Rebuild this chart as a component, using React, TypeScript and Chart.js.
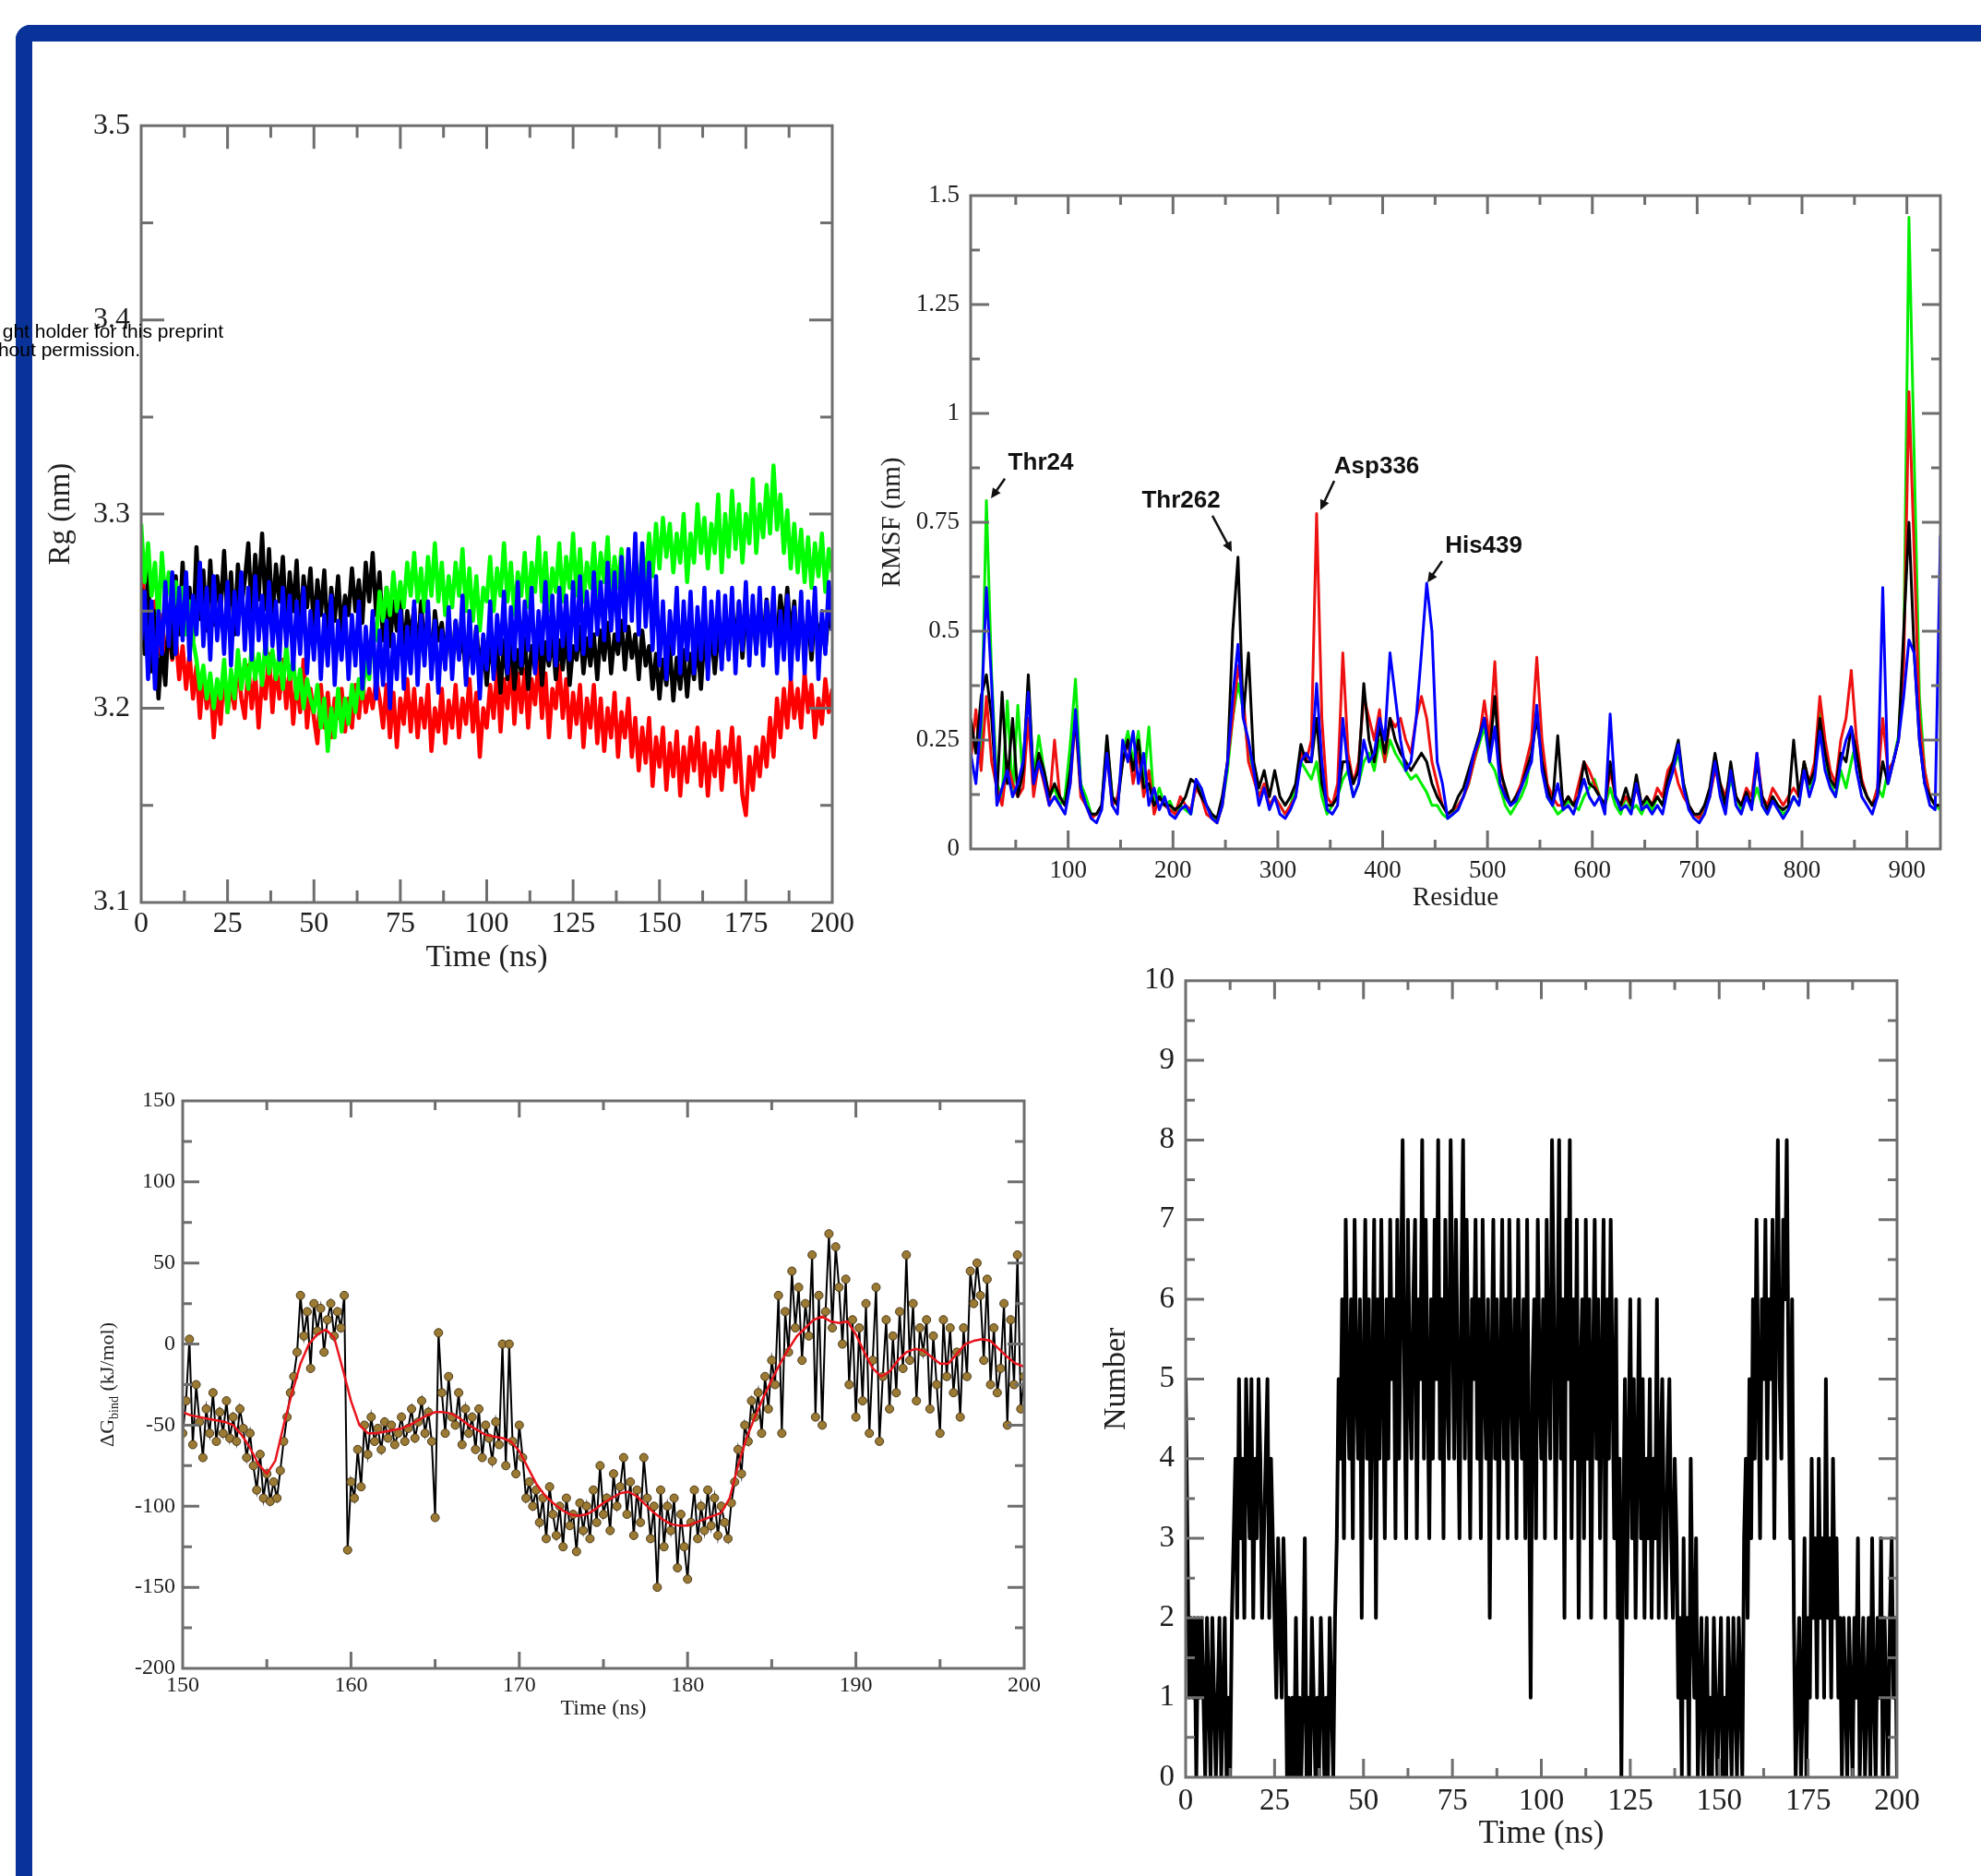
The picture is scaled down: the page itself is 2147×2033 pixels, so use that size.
import React, { useEffect, useRef } from "react";
import { Chart, registerables } from "chart.js";

Chart.register(...registerables);

const SERIF = "'Liberation Serif', 'Times New Roman', Times, serif";
const SANS = "'Liberation Sans', Arial, Helvetica, sans-serif";
const TEXT = "#1e1e1e";
const FRAME = "#6e6e6e";

// ---------------- Panel A: radius of gyration (nm) vs time (ns) ----------------
const rgTimeStart = 0;
const rgTimeStep = 1;
const rgBlack = [
  3.262, 3.228, 3.271, 3.219, 3.25, 3.205, 3.232, 3.212, 3.248, 3.226,
  3.268, 3.238, 3.275, 3.242, 3.262, 3.235, 3.283, 3.246, 3.271, 3.24,
  3.276, 3.243, 3.268, 3.25, 3.281, 3.245, 3.27, 3.238, 3.274, 3.252,
  3.266, 3.285, 3.248, 3.279, 3.256, 3.29, 3.251, 3.282, 3.245, 3.274,
  3.255, 3.278, 3.243, 3.27, 3.25, 3.276, 3.238, 3.268, 3.252, 3.272,
  3.24, 3.266, 3.248, 3.271, 3.235, 3.262, 3.245, 3.268, 3.239, 3.258,
  3.248, 3.272, 3.25, 3.266, 3.244, 3.275, 3.255, 3.28, 3.248, 3.27,
  3.235, 3.262, 3.232, 3.255, 3.24, 3.258, 3.228, 3.25, 3.236, 3.252,
  3.226, 3.255, 3.23, 3.248, 3.222, 3.25, 3.235, 3.244, 3.225, 3.246,
  3.22, 3.245, 3.226, 3.24, 3.215, 3.238, 3.222, 3.242, 3.218, 3.236,
  3.212, 3.236, 3.218, 3.232, 3.208, 3.235, 3.215, 3.238, 3.21, 3.23,
  3.218, 3.236, 3.21, 3.232, 3.22, 3.24, 3.212, 3.234, 3.222, 3.238,
  3.215, 3.235, 3.22, 3.24, 3.212, 3.232, 3.225, 3.242, 3.218, 3.236,
  3.222, 3.238, 3.215, 3.24, 3.225, 3.244, 3.218, 3.238, 3.228, 3.245,
  3.22, 3.242, 3.226, 3.238, 3.215, 3.24, 3.222, 3.232, 3.21, 3.228,
  3.205, 3.225, 3.212, 3.232, 3.204, 3.226, 3.21, 3.23, 3.206, 3.228,
  3.215, 3.235, 3.21, 3.238, 3.22, 3.242, 3.218, 3.24, 3.225, 3.246,
  3.228, 3.25, 3.232, 3.255, 3.226, 3.248, 3.235, 3.252, 3.23, 3.255,
  3.232, 3.256, 3.238, 3.25, 3.235, 3.258, 3.24, 3.262, 3.236, 3.255,
  3.228, 3.25, 3.232, 3.248, 3.225, 3.252, 3.235, 3.246, 3.23, 3.25,
  3.24,
];
const rgRed = [
  3.285, 3.245, 3.262, 3.232, 3.255, 3.228, 3.248, 3.222, 3.24, 3.225,
  3.238, 3.215, 3.232, 3.21, 3.228, 3.205, 3.222, 3.195, 3.218, 3.2,
  3.215, 3.185, 3.21, 3.192, 3.22, 3.198, 3.212, 3.2, 3.225, 3.205,
  3.195, 3.222, 3.2, 3.218, 3.19, 3.215, 3.205, 3.228, 3.198, 3.222,
  3.205, 3.225, 3.2, 3.22, 3.192, 3.215, 3.198, 3.225, 3.19, 3.21,
  3.195, 3.182, 3.212, 3.19, 3.208, 3.185, 3.205, 3.195, 3.21, 3.188,
  3.205, 3.19, 3.212, 3.195, 3.215, 3.198, 3.21, 3.2, 3.215, 3.205,
  3.19, 3.212, 3.185, 3.208, 3.18, 3.205, 3.192, 3.215, 3.188, 3.21,
  3.185, 3.205, 3.19, 3.212, 3.178, 3.2, 3.188, 3.21, 3.182, 3.204,
  3.19, 3.212, 3.185, 3.205, 3.192, 3.215, 3.188, 3.208, 3.175, 3.2,
  3.19, 3.212, 3.195, 3.22, 3.188, 3.215, 3.2, 3.225, 3.192, 3.218,
  3.198, 3.22, 3.19, 3.215, 3.202, 3.225, 3.195, 3.218, 3.185, 3.21,
  3.2, 3.222, 3.195, 3.215, 3.185, 3.208, 3.192, 3.212, 3.18, 3.205,
  3.19, 3.212, 3.182, 3.205, 3.178, 3.2, 3.185, 3.208, 3.175, 3.198,
  3.185, 3.205, 3.175, 3.195, 3.168, 3.19, 3.172, 3.195, 3.16, 3.185,
  3.17, 3.19, 3.158, 3.182, 3.165, 3.188, 3.155, 3.18, 3.162, 3.185,
  3.168, 3.19, 3.16, 3.182, 3.155, 3.178, 3.165, 3.188, 3.158, 3.18,
  3.17, 3.19, 3.162, 3.185, 3.155, 3.145, 3.175, 3.158, 3.18, 3.165,
  3.185, 3.17, 3.195, 3.175, 3.205, 3.185, 3.21, 3.19, 3.215, 3.195,
  3.21, 3.19, 3.218, 3.198, 3.212, 3.185, 3.205, 3.192, 3.215, 3.198,
  3.21,
];
const rgGreen = [
  3.295, 3.265, 3.285, 3.258, 3.275, 3.245, 3.28, 3.255, 3.27, 3.248,
  3.265, 3.245, 3.262, 3.238, 3.255, 3.235, 3.225, 3.21, 3.222, 3.205,
  3.218, 3.2, 3.215, 3.205, 3.225, 3.198, 3.22, 3.205, 3.23, 3.21,
  3.225, 3.21, 3.232, 3.215, 3.228, 3.212, 3.235, 3.218, 3.23, 3.215,
  3.228, 3.21, 3.232, 3.215, 3.225, 3.205, 3.22, 3.2, 3.215, 3.205,
  3.198, 3.212, 3.19, 3.205, 3.178, 3.2, 3.185, 3.21, 3.188, 3.205,
  3.192, 3.212, 3.198, 3.215, 3.205, 3.225, 3.215, 3.245, 3.235, 3.26,
  3.245, 3.262, 3.248, 3.27, 3.25, 3.265, 3.252, 3.275, 3.258, 3.28,
  3.255, 3.272, 3.25, 3.278, 3.258, 3.285, 3.255, 3.275, 3.248, 3.268,
  3.252, 3.275, 3.258, 3.282, 3.25, 3.272, 3.245, 3.268, 3.24, 3.262,
  3.255, 3.278, 3.25, 3.272, 3.258, 3.285, 3.255, 3.275, 3.248, 3.27,
  3.258, 3.28, 3.252, 3.275, 3.26, 3.288, 3.255, 3.28, 3.25, 3.272,
  3.26, 3.285, 3.255, 3.278, 3.262, 3.29, 3.258, 3.282, 3.255, 3.275,
  3.262, 3.285, 3.258, 3.28, 3.265, 3.288, 3.255, 3.278, 3.262, 3.282,
  3.258, 3.275, 3.252, 3.27, 3.26, 3.282, 3.265, 3.29, 3.268, 3.295,
  3.272, 3.298, 3.278, 3.295, 3.27, 3.29, 3.275, 3.3, 3.265, 3.29,
  3.275, 3.305, 3.28, 3.298, 3.272, 3.295, 3.28, 3.31, 3.27, 3.3,
  3.278, 3.312, 3.282, 3.305, 3.275, 3.3, 3.285, 3.318, 3.28, 3.305,
  3.288, 3.315, 3.29, 3.325, 3.292, 3.31, 3.28, 3.302, 3.272, 3.295,
  3.27, 3.292, 3.265, 3.288, 3.262, 3.285, 3.268, 3.29, 3.26, 3.282,
  3.27,
];
const rgBlue = [
  3.235, 3.26, 3.215, 3.255, 3.21, 3.25, 3.228, 3.265, 3.232, 3.27,
  3.228, 3.262, 3.235, 3.27, 3.225, 3.258, 3.238, 3.275, 3.232, 3.262,
  3.225, 3.268, 3.235, 3.258, 3.228, 3.265, 3.222, 3.26, 3.238, 3.27,
  3.23, 3.262, 3.225, 3.268, 3.235, 3.258, 3.228, 3.265, 3.232, 3.255,
  3.225, 3.262, 3.232, 3.258, 3.22, 3.255, 3.228, 3.262, 3.218, 3.25,
  3.225, 3.255, 3.215, 3.248, 3.222, 3.258, 3.212, 3.245, 3.225, 3.252,
  3.215, 3.248, 3.222, 3.255, 3.21, 3.242, 3.218, 3.25, 3.205, 3.24,
  3.212, 3.245, 3.2, 3.238, 3.215, 3.25, 3.21, 3.242, 3.218, 3.255,
  3.212, 3.248, 3.222, 3.255, 3.215, 3.245, 3.208, 3.24, 3.22, 3.252,
  3.215, 3.245, 3.225, 3.258, 3.212, 3.25, 3.218, 3.242, 3.205, 3.238,
  3.22, 3.255, 3.215, 3.248, 3.228, 3.26, 3.218, 3.252, 3.225, 3.265,
  3.222, 3.255, 3.23, 3.262, 3.218, 3.25, 3.228, 3.265, 3.225, 3.258,
  3.222, 3.262, 3.232, 3.258, 3.225, 3.265, 3.23, 3.268, 3.228, 3.26,
  3.232, 3.27, 3.238, 3.265, 3.235, 3.275, 3.24, 3.27, 3.235, 3.278,
  3.24, 3.282, 3.245, 3.29, 3.238, 3.285, 3.242, 3.275, 3.23, 3.268,
  3.222, 3.255, 3.215, 3.25, 3.228, 3.262, 3.218, 3.255, 3.225, 3.26,
  3.218, 3.252, 3.225, 3.262, 3.215, 3.255, 3.228, 3.26, 3.22, 3.258,
  3.225, 3.262, 3.218, 3.255, 3.23, 3.265, 3.222, 3.258, 3.228, 3.262,
  3.222, 3.255, 3.232, 3.262, 3.218, 3.25, 3.225, 3.258, 3.215, 3.252,
  3.225, 3.26, 3.218, 3.255, 3.23, 3.262, 3.215, 3.25, 3.228, 3.265,
  3.24,
];

// ---------------- Panel B: RMSF (nm) per residue ----------------
const rmsfResidueStart = 7;
const rmsfResidueStep = 5;
const rmsfGreen = [
  0.25, 0.3, 0.22, 0.8, 0.4, 0.15, 0.12, 0.34, 0.12, 0.33,
  0.15, 0.38, 0.16, 0.26, 0.18, 0.12, 0.14, 0.1, 0.12, 0.24,
  0.39, 0.15, 0.12, 0.08, 0.08, 0.1, 0.25, 0.12, 0.1, 0.22,
  0.27, 0.2, 0.27, 0.15, 0.28, 0.1, 0.14, 0.1, 0.11, 0.08,
  0.1, 0.09, 0.08, 0.15, 0.13, 0.1, 0.08, 0.06, 0.1, 0.18,
  0.3, 0.38, 0.32, 0.22, 0.18, 0.12, 0.14, 0.1, 0.12, 0.1,
  0.08, 0.1, 0.14, 0.2, 0.18, 0.16, 0.2, 0.12, 0.08, 0.1,
  0.12, 0.16, 0.18, 0.12, 0.15, 0.2, 0.22, 0.18, 0.25, 0.2,
  0.25, 0.22, 0.2, 0.18, 0.16, 0.17, 0.15, 0.13, 0.1, 0.1,
  0.08, 0.07, 0.08, 0.1, 0.12, 0.15, 0.2, 0.24, 0.28, 0.2,
  0.18, 0.14, 0.1, 0.08, 0.1, 0.12, 0.15, 0.22, 0.32, 0.2,
  0.12, 0.1, 0.08, 0.09, 0.11, 0.1, 0.09, 0.12, 0.14, 0.16,
  0.12, 0.1, 0.14, 0.1, 0.08, 0.12, 0.09, 0.1, 0.08, 0.11,
  0.09, 0.12, 0.1, 0.14, 0.18, 0.22, 0.15, 0.1, 0.08, 0.07,
  0.09, 0.12, 0.2, 0.14, 0.1, 0.16, 0.12, 0.09, 0.12, 0.1,
  0.14, 0.1, 0.08, 0.12, 0.1, 0.08, 0.09, 0.12, 0.1, 0.2,
  0.14, 0.18, 0.32, 0.2, 0.15, 0.12, 0.18, 0.14, 0.2, 0.25,
  0.15, 0.12, 0.1, 0.14, 0.12, 0.18, 0.2, 0.26, 0.45, 1.45,
  0.9, 0.35, 0.18, 0.12, 0.1, 0.09,
];
const rmsfRed = [
  0.2, 0.32, 0.18, 0.35, 0.2, 0.14, 0.1, 0.2, 0.15, 0.12,
  0.14, 0.3, 0.12, 0.2, 0.15, 0.1, 0.25, 0.12, 0.1, 0.15,
  0.3, 0.12, 0.1, 0.07, 0.08, 0.1, 0.22, 0.1, 0.12, 0.2,
  0.25, 0.15, 0.22, 0.12, 0.18, 0.08, 0.12, 0.1, 0.09, 0.08,
  0.12, 0.1, 0.09, 0.14, 0.12, 0.08, 0.07, 0.06, 0.1, 0.2,
  0.3, 0.42, 0.35, 0.2, 0.16, 0.12, 0.15, 0.1, 0.12, 0.1,
  0.08, 0.1, 0.12, 0.22, 0.2, 0.25, 0.77, 0.3, 0.12, 0.1,
  0.15, 0.45, 0.22, 0.15, 0.2, 0.35, 0.3, 0.25, 0.32, 0.2,
  0.3, 0.28, 0.3, 0.25, 0.22, 0.3, 0.35, 0.3, 0.2, 0.15,
  0.1, 0.08, 0.09, 0.1, 0.12, 0.15, 0.2, 0.25, 0.34, 0.25,
  0.43, 0.2, 0.12, 0.1, 0.12, 0.15, 0.2, 0.25, 0.44, 0.25,
  0.15, 0.12, 0.1, 0.1, 0.12, 0.1, 0.15, 0.2, 0.18, 0.15,
  0.12, 0.1, 0.18, 0.12, 0.1, 0.12, 0.1, 0.14, 0.1, 0.12,
  0.1, 0.14, 0.12, 0.18, 0.2, 0.15, 0.12, 0.1, 0.08, 0.07,
  0.1, 0.12, 0.18, 0.15, 0.12, 0.18, 0.12, 0.1, 0.14, 0.12,
  0.22, 0.12, 0.1, 0.14, 0.12, 0.1, 0.12, 0.14, 0.12, 0.2,
  0.15, 0.2, 0.35, 0.25, 0.18, 0.15, 0.25, 0.3, 0.41, 0.25,
  0.16, 0.12, 0.1, 0.14, 0.3, 0.18, 0.2, 0.25, 0.42, 1.05,
  0.68, 0.3, 0.18, 0.12, 0.1, 0.1,
];
const rmsfBlack = [
  0.3, 0.22, 0.35, 0.4, 0.3, 0.12, 0.36, 0.15, 0.3, 0.12,
  0.18, 0.4, 0.15, 0.22, 0.18, 0.12, 0.15, 0.12, 0.1, 0.18,
  0.3, 0.14, 0.1, 0.08, 0.08, 0.1, 0.26, 0.12, 0.1, 0.2,
  0.25, 0.18, 0.25, 0.14, 0.15, 0.1, 0.12, 0.1, 0.1, 0.09,
  0.1, 0.12, 0.16, 0.15, 0.12, 0.1, 0.08, 0.07, 0.12, 0.2,
  0.5, 0.67, 0.3, 0.45, 0.2, 0.14, 0.18, 0.12, 0.18, 0.12,
  0.1, 0.12, 0.15, 0.24, 0.2, 0.2, 0.3, 0.15, 0.1, 0.1,
  0.12, 0.2, 0.2, 0.15, 0.18, 0.38, 0.25, 0.2, 0.28, 0.22,
  0.3, 0.25, 0.22, 0.2, 0.18, 0.2, 0.22, 0.2, 0.15, 0.12,
  0.1, 0.08, 0.09, 0.12, 0.14, 0.18, 0.22, 0.26, 0.3, 0.22,
  0.35, 0.18, 0.14, 0.1, 0.12, 0.14, 0.18, 0.22, 0.3, 0.2,
  0.14, 0.1, 0.26, 0.1, 0.12, 0.1, 0.12, 0.2, 0.15, 0.14,
  0.12, 0.1, 0.2, 0.12, 0.1, 0.14, 0.1, 0.17, 0.1, 0.12,
  0.1, 0.12, 0.1, 0.16, 0.2, 0.25, 0.15, 0.1, 0.08, 0.08,
  0.1, 0.14, 0.22, 0.15, 0.1, 0.2, 0.12, 0.1, 0.13, 0.1,
  0.2, 0.12, 0.09, 0.12, 0.1, 0.09, 0.1, 0.25, 0.12, 0.2,
  0.15, 0.18, 0.3, 0.22, 0.16, 0.14, 0.22, 0.2, 0.28, 0.22,
  0.15, 0.12, 0.1, 0.12, 0.2, 0.15, 0.2, 0.25, 0.5, 0.75,
  0.45, 0.25, 0.15, 0.12, 0.1, 0.1,
];
const rmsfBlue = [
  0.22, 0.15, 0.3, 0.6, 0.38, 0.1, 0.14, 0.18, 0.12, 0.15,
  0.2, 0.36, 0.15, 0.2, 0.16, 0.1, 0.12, 0.1, 0.08, 0.15,
  0.32, 0.14, 0.1, 0.07, 0.06, 0.09, 0.22, 0.1, 0.08, 0.25,
  0.2, 0.27, 0.15, 0.22, 0.1, 0.14, 0.09, 0.12, 0.08, 0.07,
  0.09, 0.1, 0.08, 0.16, 0.14, 0.1, 0.07, 0.06, 0.1, 0.2,
  0.35, 0.47, 0.3, 0.25, 0.18, 0.1, 0.14, 0.09, 0.12, 0.08,
  0.07, 0.09, 0.12, 0.2, 0.22, 0.2, 0.38, 0.2, 0.09, 0.08,
  0.1, 0.3, 0.18, 0.12, 0.15, 0.25, 0.2, 0.22, 0.3, 0.25,
  0.45, 0.35, 0.25, 0.18, 0.2, 0.3, 0.45, 0.61, 0.5, 0.2,
  0.15, 0.07, 0.08, 0.09, 0.12, 0.16, 0.22, 0.25, 0.3, 0.2,
  0.28, 0.15, 0.12, 0.1, 0.11, 0.14, 0.17, 0.2, 0.33, 0.18,
  0.12, 0.1, 0.15, 0.09, 0.1, 0.08, 0.12, 0.16, 0.12, 0.1,
  0.12, 0.08, 0.31, 0.12, 0.09, 0.1, 0.08, 0.15, 0.09, 0.1,
  0.08, 0.1, 0.08, 0.14, 0.18, 0.24, 0.14, 0.09, 0.07, 0.06,
  0.08, 0.12, 0.2, 0.12, 0.08, 0.18, 0.1, 0.08, 0.12, 0.09,
  0.22, 0.1, 0.08, 0.11, 0.09, 0.07, 0.09, 0.12, 0.1, 0.18,
  0.12, 0.16, 0.27, 0.18, 0.14, 0.12, 0.2, 0.25, 0.28, 0.18,
  0.12, 0.1, 0.08, 0.12, 0.6, 0.15, 0.2, 0.25, 0.35, 0.48,
  0.45, 0.25, 0.15, 0.1, 0.09, 0.72,
];
// labelled residues: text centre, arrow tail, arrow tip (residue, nm)
const rmsfLabels = [
  { text: "Thr24", at: [73.9, 0.886], from: [39.6, 0.85], to: [26.4, 0.805] },
  { text: "Thr262", at: [207.7, 0.799], from: [237.6, 0.765], to: [256.1, 0.682] },
  { text: "Asp336", at: [394.3, 0.877], from: [353.8, 0.845], to: [340.6, 0.778] },
  { text: "His439", at: [496.4, 0.695], from: [456.7, 0.661], to: [442.7, 0.612] },
];

// ---------------- Panel C: binding free energy (kJ/mol) vs time ----------------
const dgTimeStart = 150;
const dgTimeStep = 0.2;
const dgValues = [
  -55, -35, 3, -62, -25, -48,
  -70, -40, -55, -30, -60,
  -42, -55, -35, -58, -45,
  -60, -40, -52, -70, -55,
  -75, -90, -68, -95, -80,
  -97, -85, -95, -78, -60,
  -45, -30, -20, -5, 30,
  5, 20, -15, 25, 8,
  22, -5, 15, 25, 5,
  20, 10, 30, -127, -85,
  -95, -65, -88, -50, -68,
  -45, -60, -52, -65, -48,
  -58, -50, -62, -55, -45,
  -60, -52, -40, -58, -48,
  -35, -55, -42, -60, -107,
  7, -30, -55, -20, -45,
  -50, -30, -62, -40, -55,
  -45, -65, -40, -70, -50,
  -58, -72, -48, -62, 0,
  -75, 0, -60, -80, -50,
  -70, -95, -85, -100, -90,
  -110, -95, -120, -88, -105,
  -118, -100, -125, -95, -112,
  -105, -128, -98, -115, -100,
  -120, -90, -110, -75, -105,
  -95, -115, -80, -100, -88,
  -70, -105, -85, -118, -90,
  -110, -70, -95, -120, -100,
  -150, -90, -125, -100, -115,
  -95, -138, -105, -125, -145,
  -110, -90, -120, -100, -115,
  -90, -112, -95, -118, -100,
  -110, -120, -98, -85, -65,
  -80, -50, -60, -35, -45,
  -30, -55, -20, -40, -10,
  -25, 30, -55, 20, -5,
  45, 10, 35, -10, 25,
  5, 55, -45, 30, -50,
  20, 68, 10, 60, 35,
  0, 40, -25, 15, -45,
  10, -35, 25, -55, -10,
  35, -60, -20, 15, -40,
  5, -30, 20, -15, 55,
  -10, 25, -35, 10, -5,
  15, -40, 5, -25, -55,
  15, -20, 10, -30, -5,
  -45, 10, -20, 45, 25,
  50, 30, -10, 40, -25,
  10, -30, -15, 25, -50,
  15, -25, 55, -40, -20,
];
const dgSmoothStep = 0.5;
const dgSmooth = [
  -42, -44, -45, -46, -47, -48, -50, -56, -64, -74,
  -80, -72, -50, -30, -12, 0, 6, 9, 4, -15,
  -35, -50, -55, -55, -54, -53, -52, -50, -47, -44,
  -42, -42, -43, -46, -50, -53, -56, -57, -58, -60,
  -66, -76, -86, -93, -98, -102, -105, -106, -105, -102,
  -98, -95, -92, -91, -94, -99, -104, -108, -111, -112,
  -112, -110, -108, -106, -104, -95, -75, -58, -45, -33,
  -22, -12, -3, 5, 10, 15, 17, 14, 13, 14,
  6, -5, -15, -20, -17, -10, -5, -3, -4, -8,
  -12, -12, -6, 0, 2, 3, 2, -3, -8, -12,
  -14,
];

// ---------------- Panel D: number of hydrogen bonds vs time ----------------
const hbTimeStart = 0;
const hbTimeStep = 0.5;
const hbCount = [
  5, 3, 1, 2, 1, 2, 0, 2, 1, 2,
  1, 0, 2, 1, 0, 2, 1, 0, 1, 2,
  0, 1, 2, 0, 1, 0, 2, 3, 4, 2,
  5, 3, 4, 2, 5, 4, 3, 5, 2, 4,
  3, 5, 4, 2, 3, 4, 5, 2, 4, 3,
  2, 1, 3, 2, 1, 3, 2, 0, 1, 0,
  1, 0, 2, 0, 1, 0, 1, 3, 0, 1,
  0, 2, 1, 0, 1, 0, 2, 1, 0, 1,
  0, 2, 1, 0, 2, 3, 5, 4, 6, 3,
  7, 5, 4, 6, 3, 7, 5, 4, 6, 2,
  5, 7, 4, 6, 3, 5, 7, 2, 6, 4,
  7, 5, 3, 6, 4, 7, 5, 6, 3, 7,
  4, 6, 8, 5, 3, 7, 5, 4, 6, 7,
  3, 6, 5, 8, 4, 7, 5, 3, 6, 4,
  7, 5, 8, 4, 6, 3, 7, 5, 4, 8,
  6, 4, 7, 5, 3, 6, 8, 4, 7, 5,
  3, 6, 5, 7, 4, 6, 3, 7, 5, 4,
  6, 2, 5, 7, 4, 6, 3, 5, 7, 4,
  6, 3, 7, 5, 4, 6, 3, 7, 5, 4,
  6, 3, 7, 4, 1, 5, 6, 3, 7, 5,
  4, 6, 3, 7, 5, 4, 8, 6, 3, 5,
  8, 4, 6, 2, 7, 5, 8, 3, 6, 4,
  7, 2, 5, 6, 3, 7, 4, 6, 2, 5,
  7, 4, 6, 3, 5, 7, 2, 6, 4, 7,
  5, 3, 6, 2, 4, 0, 3, 5, 2, 4,
  6, 3, 5, 2, 4, 6, 3, 5, 2, 4,
  3, 5, 2, 4, 3, 6, 2, 4, 5, 3,
  2, 4, 5, 3, 2, 4, 3, 1, 2, 0,
  3, 1, 2, 0, 4, 2, 1, 3, 0, 1,
  2, 0, 1, 2, 0, 1, 0, 2, 1, 0,
  1, 2, 0, 1, 0, 2, 1, 0, 2, 1,
  0, 2, 1, 0, 3, 4, 2, 5, 3, 6,
  4, 7, 5, 3, 6, 5, 7, 4, 6, 5,
  7, 3, 6, 8, 5, 4, 7, 6, 8, 5,
  3, 6, 2, 0, 1, 2, 0, 1, 3, 0,
  2, 1, 4, 2, 3, 1, 4, 2, 3, 1,
  5, 2, 3, 1, 4, 2, 3, 1, 2, 0,
  2, 1, 0, 2, 1, 0, 2, 1, 3, 0,
  1, 2, 0, 1, 2, 0, 3, 1, 0, 2,
  1, 3, 0, 2, 1, 0, 2, 3, 1, 2,
  0,
];

// ---------------- helpers ----------------
const series = (vals: number[], start: number, step: number) =>
  vals.map((y, i) => ({ x: start + i * step, y }));

type Box = { l: number; t: number; r: number; b: number };

interface DecorCfg {
  xMajor: number; xMinor: number; yMajor: number; yMinor: number;
  majorLen: number; minorLen: number; lineWidth: number;
  xTitle: string; xTitleFont: string; xTitleDy: number;
  yTitleDx: number; yTitle: (ctx: CanvasRenderingContext2D) => void;
  extra?: (chart: any) => void;
}

function decor(cfg: DecorCfg) {
  return {
    id: "decor",
    afterDatasetsDraw(chart: any) {
      const ctx: CanvasRenderingContext2D = chart.ctx;
      const a = chart.chartArea;
      const xs = chart.scales.x;
      const ys = chart.scales.y;
      ctx.save();
      ctx.strokeStyle = FRAME;
      ctx.lineWidth = cfg.lineWidth;
      ctx.beginPath();
      const isMajor = (v: number, m: number) => Math.abs(v / m - Math.round(v / m)) < 1e-6;
      for (let k = Math.ceil(xs.min / cfg.xMinor - 1e-9); k <= Math.floor(xs.max / cfg.xMinor + 1e-9); k++) {
        const v = k * cfg.xMinor;
        const p = xs.getPixelForValue(v);
        if (p - a.left < 2 || a.right - p < 2) continue;
        const len = isMajor(v, cfg.xMajor) ? cfg.majorLen : cfg.minorLen;
        ctx.moveTo(p, a.bottom); ctx.lineTo(p, a.bottom - len);
        ctx.moveTo(p, a.top); ctx.lineTo(p, a.top + len);
      }
      for (let k = Math.ceil(ys.min / cfg.yMinor - 1e-9); k <= Math.floor(ys.max / cfg.yMinor + 1e-9); k++) {
        const v = k * cfg.yMinor;
        const p = ys.getPixelForValue(v);
        if (p - a.top < 2 || a.bottom - p < 2) continue;
        const len = isMajor(v, cfg.yMajor) ? cfg.majorLen : cfg.minorLen;
        ctx.moveTo(a.left, p); ctx.lineTo(a.left + len, p);
        ctx.moveTo(a.right, p); ctx.lineTo(a.right - len, p);
      }
      ctx.stroke();
      ctx.strokeRect(a.left, a.top, a.right - a.left, a.bottom - a.top);
      ctx.fillStyle = TEXT;
      ctx.textAlign = "center";
      ctx.textBaseline = "middle";
      ctx.font = cfg.xTitleFont;
      ctx.fillText(cfg.xTitle, (a.left + a.right) / 2, a.bottom + cfg.xTitleDy);
      ctx.save();
      ctx.translate(a.left - cfg.yTitleDx, (a.top + a.bottom) / 2);
      ctx.rotate(-Math.PI / 2);
      cfg.yTitle(ctx);
      ctx.restore();
      if (cfg.extra) cfg.extra(chart);
      ctx.restore();
    },
  };
}

function simpleTitle(text: string, font: string) {
  return (ctx: CanvasRenderingContext2D) => {
    ctx.font = font;
    ctx.fillStyle = TEXT;
    ctx.textAlign = "center";
    ctx.textBaseline = "middle";
    ctx.fillText(text, 0, 0);
  };
}

function axis(kind: "x" | "y", min: number, max: number, step: number, fontSize: number, padding: number, size: number) {
  return {
    type: "linear",
    position: kind === "x" ? "bottom" : "left",
    min,
    max,
    grid: { display: false, drawTicks: false },
    border: { display: false },
    ticks: {
      stepSize: step,
      autoSkip: false,
      maxRotation: 0,
      minRotation: 0,
      includeBounds: false,
      padding,
      color: TEXT,
      font: { family: SERIF, size: fontSize },
      callback: (v: any) => String(Math.round(Number(v) * 1000) / 1000),
    },
    afterFit: (s: any) => {
      if (kind === "x") s.height = size;
      else s.width = size;
    },
  };
}

function ChartPanel({ area, pad, make }: { area: Box; pad: Box; make: () => any }) {
  const ref = useRef<HTMLCanvasElement>(null);
  const w = area.r - area.l + pad.l + pad.r;
  const h = area.b - area.t + pad.t + pad.b;
  useEffect(() => {
    const cfg = make();
    cfg.options = {
      ...cfg.options,
      responsive: false,
      maintainAspectRatio: false,
      animation: false,
      devicePixelRatio: 1,
      events: [],
      layout: { padding: { left: 0, top: pad.t, right: pad.r, bottom: 0 } },
      plugins: { legend: { display: false }, tooltip: { enabled: false } },
    };
    const chart = new Chart(ref.current as HTMLCanvasElement, cfg);
    return () => chart.destroy();
  }, []);
  return (
    <canvas
      ref={ref}
      width={w}
      height={h}
      style={{ position: "absolute", left: area.l - pad.l, top: area.t - pad.t, width: w, height: h }}
    />
  );
}

const lineDs = (data: any[], color: string, width: number) => ({
  data,
  borderColor: color,
  borderWidth: width,
  pointRadius: 0,
  fill: false,
  tension: 0,
  borderJoinStyle: "round",
});

// ---------------- panels ----------------
const A_AREA: Box = { l: 153, t: 135, r: 902, b: 978 };
const A_PAD: Box = { l: 123, t: 30, r: 40, b: 110 };
const makeA = () => ({
  type: "line",
  data: {
    datasets: [
      lineDs(series(rgBlue, rgTimeStart, rgTimeStep), "#0000ff", 4.5),
      lineDs(series(rgGreen, rgTimeStart, rgTimeStep), "#00ff00", 4.5),
      lineDs(series(rgBlack, rgTimeStart, rgTimeStep), "#000000", 4.5),
      lineDs(series(rgRed, rgTimeStart, rgTimeStep), "#ff0000", 4.5),
    ],
  },
  options: {
    scales: {
      x: axis("x", 0, 200, 25, 32, 4, A_PAD.b),
      y: axis("y", 3.1, 3.5, 0.1, 32, 12, A_PAD.l),
    },
  },
  plugins: [
    decor({
      xMajor: 25, xMinor: 12.5, yMajor: 0.1, yMinor: 0.05,
      majorLen: 25, minorLen: 13, lineWidth: 3,
      xTitle: "Time (ns)", xTitleFont: `34px ${SERIF}`, xTitleDy: 60,
      yTitleDx: 87, yTitle: simpleTitle("Rg (nm)", `33px ${SERIF}`),
    }),
  ],
});

const B_AREA: Box = { l: 1052, t: 212, r: 2103, b: 920 };
const B_PAD: Box = { l: 122, t: 30, r: 40, b: 80 };
const makeB = () => ({
  type: "line",
  data: {
    datasets: [
      lineDs(series(rmsfBlue, rmsfResidueStart, rmsfResidueStep), "#0000ff", 3),
      lineDs(series(rmsfBlack, rmsfResidueStart, rmsfResidueStep), "#000000", 3),
      lineDs(series(rmsfRed, rmsfResidueStart, rmsfResidueStep), "#ee1111", 3),
      lineDs(series(rmsfGreen, rmsfResidueStart, rmsfResidueStep), "#00ee00", 3),
    ],
  },
  options: {
    scales: {
      x: axis("x", 7, 932, 100, 27, 8, B_PAD.b),
      y: axis("y", 0, 1.5, 0.25, 27, 12, B_PAD.l),
    },
  },
  plugins: [
    decor({
      xMajor: 100, xMinor: 50, yMajor: 0.25, yMinor: 0.125,
      majorLen: 20, minorLen: 10, lineWidth: 3,
      xTitle: "Residue", xTitleFont: `29px ${SERIF}`, xTitleDy: 53,
      yTitleDx: 85, yTitle: simpleTitle("RMSF (nm)", `29px ${SERIF}`),
      extra: (chart: any) => {
        const ctx: CanvasRenderingContext2D = chart.ctx;
        const xs = chart.scales.x;
        const ys = chart.scales.y;
        ctx.fillStyle = "#111";
        ctx.strokeStyle = "#111";
        ctx.font = `bold 26px ${SANS}`;
        ctx.textAlign = "center";
        ctx.textBaseline = "middle";
        for (const lab of rmsfLabels) {
          ctx.fillText(lab.text, xs.getPixelForValue(lab.at[0]), ys.getPixelForValue(lab.at[1]));
          const x0 = xs.getPixelForValue(lab.from[0]);
          const y0 = ys.getPixelForValue(lab.from[1]);
          const x1 = xs.getPixelForValue(lab.to[0]);
          const y1 = ys.getPixelForValue(lab.to[1]);
          const ang = Math.atan2(y1 - y0, x1 - x0);
          const hl = 12;
          ctx.lineWidth = 2.5;
          ctx.beginPath();
          ctx.moveTo(x0, y0);
          ctx.lineTo(x1 - Math.cos(ang) * hl * 0.7, y1 - Math.sin(ang) * hl * 0.7);
          ctx.stroke();
          ctx.beginPath();
          ctx.moveTo(x1, y1);
          ctx.lineTo(x1 - hl * Math.cos(ang - 0.45), y1 - hl * Math.sin(ang - 0.45));
          ctx.lineTo(x1 - hl * Math.cos(ang + 0.45), y1 - hl * Math.sin(ang + 0.45));
          ctx.closePath();
          ctx.fill();
        }
      },
    }),
  ],
});

const C_AREA: Box = { l: 198, t: 1193, r: 1110, b: 1808 };
const C_PAD: Box = { l: 120, t: 25, r: 40, b: 80 };
const makeC = () => ({
  type: "line",
  data: {
    datasets: [
      lineDs(series(dgSmooth, dgTimeStart, dgSmoothStep), "#e8141c", 2.5),
      {
        data: series(dgValues, dgTimeStart, dgTimeStep),
        borderColor: "#000000",
        borderWidth: 2,
        pointRadius: 4.5,
        pointBackgroundColor: "#9b7a34",
        pointBorderColor: "#4a3818",
        pointBorderWidth: 1,
        fill: false,
        tension: 0,
      },
    ],
  },
  options: {
    scales: {
      x: axis("x", 150, 200, 10, 24, 4, C_PAD.b),
      y: axis("y", -200, 150, 50, 24, 8, C_PAD.l),
    },
  },
  plugins: [
    decor({
      xMajor: 10, xMinor: 5, yMajor: 50, yMinor: 25,
      majorLen: 18, minorLen: 10, lineWidth: 3,
      xTitle: "Time (ns)", xTitleFont: `24px ${SERIF}`, xTitleDy: 44,
      yTitleDx: 82,
      yTitle: (ctx: CanvasRenderingContext2D) => {
        const big = `22px ${SERIF}`;
        const small = `14px ${SERIF}`;
        ctx.fillStyle = TEXT;
        ctx.textBaseline = "alphabetic";
        ctx.textAlign = "left";
        ctx.font = big;
        const w1 = ctx.measureText("\u0394G").width;
        const w3 = ctx.measureText(" (kJ/mol)").width;
        ctx.font = small;
        const w2 = ctx.measureText("bind").width;
        let x = -(w1 + w2 + w3) / 2;
        const base = 7;
        ctx.font = big;
        ctx.fillText("\u0394G", x, base);
        x += w1;
        ctx.font = small;
        ctx.fillText("bind", x, base + 5);
        x += w2;
        ctx.font = big;
        ctx.fillText(" (kJ/mol)", x, base);
      },
    }),
  ],
});

const D_AREA: Box = { l: 1285, t: 1061, r: 2056, b: 1926 };
const D_PAD: Box = { l: 120, t: 30, r: 60, b: 90 };
const makeD = () => ({
  type: "line",
  data: {
    datasets: [lineDs(series(hbCount, hbTimeStart, hbTimeStep), "#000000", 4)],
  },
  options: {
    scales: {
      x: axis("x", 0, 200, 25, 33, 7, D_PAD.b),
      y: axis("y", 0, 10, 1, 33, 12, D_PAD.l),
    },
  },
  plugins: [
    decor({
      xMajor: 25, xMinor: 12.5, yMajor: 1, yMinor: 0.5,
      majorLen: 20, minorLen: 10, lineWidth: 3,
      xTitle: "Time (ns)", xTitleFont: `35px ${SERIF}`, xTitleDy: 62,
      yTitleDx: 75, yTitle: simpleTitle("Number", `34px ${SERIF}`),
    }),
  ],
});

export default function App() {
  return (
    <div
      style={{
        position: "absolute",
        left: 0,
        top: 0,
        width: 2147,
        height: 2033,
        overflow: "hidden",
        background: "#ffffff",
      }}
    >
      <div
        style={{
          position: "absolute",
          left: 17,
          top: 27,
          width: 2400,
          height: 2400,
          borderTop: "18px solid #0a3399",
          borderLeft: "18px solid #0a3399",
          borderTopLeftRadius: 16,
          boxSizing: "border-box",
        }}
      />
      <ChartPanel area={A_AREA} pad={A_PAD} make={makeA} />
      <ChartPanel area={B_AREA} pad={B_PAD} make={makeB} />
      <ChartPanel area={C_AREA} pad={C_PAD} make={makeC} />
      <ChartPanel area={D_AREA} pad={D_PAD} make={makeD} />
      <div
        style={{
          position: "absolute",
          right: 2147 - 242,
          top: 348,
          font: `21px ${SANS}`,
          lineHeight: "21px",
          whiteSpace: "nowrap",
          color: "#000",
        }}
      >
        ght holder for this preprint
      </div>
      <div
        style={{
          position: "absolute",
          right: 2147 - 152,
          top: 368,
          font: `21px ${SANS}`,
          lineHeight: "21px",
          whiteSpace: "nowrap",
          color: "#000",
        }}
      >
        hout permission.
      </div>
    </div>
  );
}
